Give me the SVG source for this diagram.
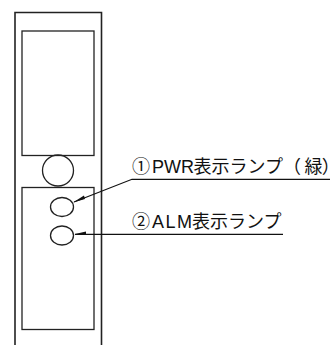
<svg xmlns="http://www.w3.org/2000/svg" width="332" height="345" viewBox="0 0 332 345">
<style>
.s{fill:none;stroke:#222;stroke-width:1.3}
.o{fill:none;stroke:#222;stroke-width:1.6}
.c{fill:none;stroke:#111;stroke-width:1.2}
.h{fill:#111;stroke:none}
.p{font-feature-settings:"palt"}
text{font-family:"Liberation Sans","Noto Sans CJK JP",sans-serif;font-size:18px;fill:#111}
</style>
<g id="body"><path class="o" d="M15 345V12.500H101.500V345"/></g>
<g id="upper-panel"><rect class="s" x="22" y="31" width="72" height="124.500"/></g>
<g id="dial"><circle class="s" cx="58" cy="170.500" r="15.500"/></g>
<g id="lower-panel"><rect class="s" x="22" y="187.500" width="72" height="142"/></g>
<g id="pwr-lamp"><ellipse class="s" cx="62" cy="207" rx="11.500" ry="9.500"/></g>
<g id="alm-lamp"><ellipse class="s" cx="62" cy="235.500" rx="11.500" ry="9.500"/></g>
<g id="connectors">
<path class="c" d="M330 179.300H132L74 202"/>
<path class="h" d="M73 202.500L84 195.500L85 199Z"/>
<path class="c" d="M283 234.300H75"/>
<path class="h" d="M74 234.300L86 231.500V234.300Z"/>
</g>
<g id="label-1"><text x="132" y="172.500">①<tspan x="152">PWR</tspan><tspan x="193.500">表示ランプ（</tspan><tspan x="304.500">緑</tspan><tspan class="p" x="322.500">）</tspan></text></g>
<g id="label-2"><text x="132" y="227.500">②<tspan x="152" textLength="40">ALM</tspan><tspan x="192">表示ランプ</tspan></text></g>
</svg>
